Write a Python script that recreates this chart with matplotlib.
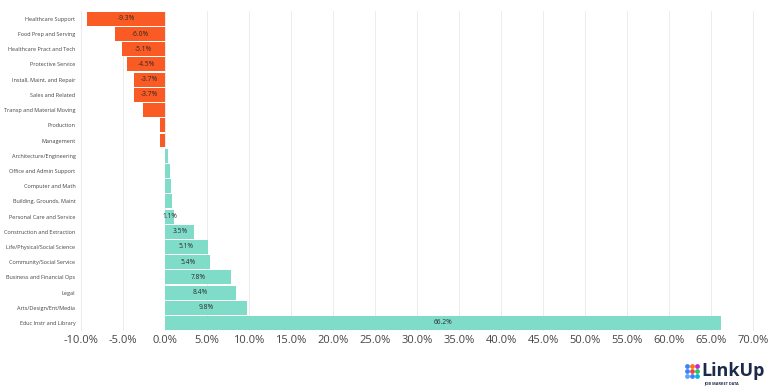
import matplotlib
matplotlib.use('Agg')
import matplotlib.pyplot as plt

categories = [
    "Healthcare Support", "Food Prep and Serving", "Healthcare Pract and Tech",
    "Protective Service", "Install, Maint, and Repair", "Sales and Related",
    "Transp and Material Moving", "Production", "Management",
    "Architecture/Engineering", "Office and Admin Support", "Computer and Math",
    "Building, Grounds, Maint", "Personal Care and Service",
    "Construction and Extraction", "Life/Physical/Social Science",
    "Community/Social Service", "Business and Financial Ops", "Legal",
    "Arts/Design/Ent/Media", "Educ Instr and Library",
]
values = [-9.3, -6.0, -5.1, -4.5, -3.7, -3.7, -2.6, -0.6, -0.6,
          0.3, 0.6, 0.7, 0.8, 1.1, 3.5, 5.1, 5.4, 7.8, 8.4, 9.8, 66.2]
# which bars carry a value label
show_label = [True] * 6 + [False] * 7 + [True] * 8

xticks = list(range(-10, 75, 5))

neg_color = '#FA5A23'
pos_color = '#7EDCC8'

plt.rcParams['font.family'] = ['Open Sans', 'DejaVu Sans']

fig = plt.figure(figsize=(7.68, 3.88), dpi=100)
ax = fig.add_axes([0.1055, 0.148, 0.886, 0.823])

colors = [neg_color if v < 0 else pos_color for v in values]
ypos = list(range(len(categories)))
bars = ax.barh(ypos, values, height=0.92, color=colors, zorder=2)

for b, v, s in zip(bars, values, show_label):
    if s:
        ax.text(b.get_x() + b.get_width() / 2, b.get_y() + b.get_height() / 2,
                f"{v:.1f}%", ha='center', va='center', fontsize=4.8,
                color='#2b2b2b', zorder=3)

ax.set_ylim(len(categories) - 0.5, -0.5)
ax.set_yticks(ypos)
ax.set_yticklabels(categories, fontsize=4.0, color='#444444')
ax.set_xlim(-10, 71)
ax.set_xticks(xticks)
ax.set_xticklabels([f"{t:.1f}%" for t in xticks], fontsize=8, color='#444444')
ax.tick_params(axis='both', length=0)
ax.tick_params(axis='y', pad=4)
ax.tick_params(axis='x', pad=3)
ax.grid(axis='x', color='#ececec', linewidth=0.7, zorder=0)
for sp in ax.spines.values():
    sp.set_visible(False)

# LinkUp logo
logo = fig.add_axes([683 / 768, 1 - 381 / 388, 18 / 768, 20 / 388])
logo.set_xlim(0, 18)
logo.set_ylim(20, 0)
logo.axis('off')
dot_colors = [['#3B82F6', '#F97316', '#C026D3'],
              ['#3B82F6', '#EF4444', '#22C55E'],
              ['#60A5FA', '#3B82F6', '#06B6D4']]
for r, row in enumerate(dot_colors):
    for c, col in enumerate(row):
        logo.scatter([4 + c * 5], [5 + r * 5], s=12, color=col, linewidths=0)
fig.text(701 / 768, 1 - 371 / 388, "LinkUp", fontsize=13, fontweight='bold',
         color='#1B2A4A', va='center', ha='left')
fig.text(704 / 768, 1 - 383 / 388, "JOB MARKET DATA", fontsize=2.8,
         fontweight='bold', color='#1B2A4A', va='center', ha='left')

fig.savefig('out.png', dpi=100)
